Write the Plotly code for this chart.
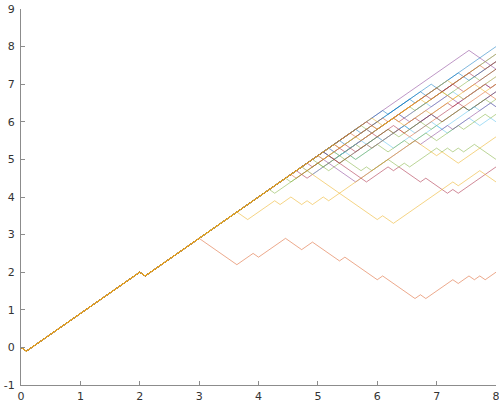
import plotly.graph_objects as go

# Shared start of every walk (turning points)
trunk_x = [0.0, 0.091, 2.0, 2.091]
trunk_y = [0.0, -0.1, 2.0, 1.9]

# Turning points of each walk after the shared start
blue1_x = [5.364, 5.455, 6.727, 6.818, 8.0]
blue1_y = [5.5, 5.4, 6.8, 6.7, 8.0]
purple1_x = [7.545, 8.0]
purple1_y = [7.9, 7.4]
olive1_x = [5.0, 5.091, 5.909, 6.0, 7.182, 7.273, 8.0]
olive1_y = [5.1, 5.0, 5.9, 5.8, 7.1, 7.0, 7.8]
red2_x = [4.636, 4.818, 6.273, 6.364, 7.545, 7.636, 8.0]
red2_y = [4.7, 4.5, 6.1, 6.0, 7.3, 7.2, 7.6]
orange2_x = [5.545, 5.636, 6.091, 6.182, 7.0, 7.091, 7.727, 7.818, 8.0]
orange2_y = [5.7, 5.6, 6.1, 6.0, 6.9, 6.8, 7.5, 7.4, 7.6]
lblue1_x = [5.091, 5.273, 6.364, 6.455, 6.818, 6.909, 7.273, 7.455, 8.0]
lblue1_y = [5.2, 5.0, 6.2, 6.1, 6.5, 6.4, 6.8, 6.6, 7.2]
green2_x = [5.727, 5.909, 6.545, 6.636, 7.091, 7.182, 7.636, 7.727, 8.0]
green2_y = [5.9, 5.7, 6.4, 6.3, 6.8, 6.7, 7.2, 7.1, 7.4]
dred2_x = [4.818, 4.909, 5.455, 5.636, 6.182, 6.273, 6.636, 6.727, 7.182, 7.273, 7.818, 7.909, 8.0]
dred2_y = [4.9, 4.8, 5.4, 5.2, 5.8, 5.7, 6.1, 6.0, 6.5, 6.4, 7.0, 6.9, 7.0]
blue2_x = [5.091, 5.364, 6.0, 6.091, 6.455, 6.545, 6.909, 7.091, 7.455, 7.545, 8.0]
blue2_y = [5.2, 4.9, 5.6, 5.5, 5.9, 5.8, 6.2, 6.0, 6.4, 6.3, 6.8]
yellow3_x = [5.273, 5.364, 5.636, 5.727, 6.273, 6.455, 6.818, 6.909, 7.364, 7.455, 7.727, 7.818, 8.0]
yellow3_y = [5.4, 5.3, 5.6, 5.5, 6.1, 5.9, 6.3, 6.2, 6.7, 6.6, 6.9, 6.8, 7.0]
lblue2_x = [4.727, 4.909, 5.455, 5.636, 6.091, 6.273, 6.545, 6.636, 7.0, 7.182, 7.545, 7.727, 7.909, 8.0]
lblue2_y = [4.8, 4.6, 5.2, 5.0, 5.5, 5.3, 5.6, 5.5, 5.9, 5.7, 6.1, 5.9, 6.1, 6.0]
orange3_x = [4.545, 4.636, 5.182, 5.364, 5.818, 5.909, 6.364, 6.545, 7.0, 7.091, 7.818, 8.0]
orange3_y = [4.6, 4.5, 5.1, 4.9, 5.4, 5.3, 5.8, 5.6, 6.1, 6.0, 6.8, 6.6]
green3_x = [4.455, 4.545, 5.0, 5.182, 5.545, 5.636, 6.0, 6.182, 6.455, 6.545, 6.818, 7.0, 7.364, 7.455, 7.818, 7.909, 8.0]
green3_y = [4.5, 4.4, 4.9, 4.7, 5.1, 5.0, 5.4, 5.2, 5.5, 5.4, 5.7, 5.5, 5.9, 5.8, 6.2, 6.1, 6.2]
dred3_x = [5.273, 5.455, 5.909, 6.0, 6.273, 6.455, 6.909, 7.0, 7.364, 7.545, 8.0]
dred3_y = [5.4, 5.2, 5.7, 5.6, 5.9, 5.7, 6.2, 6.1, 6.5, 6.3, 6.8]
yellow4_x = [5.909, 6.091, 6.727, 6.818, 7.091, 7.273, 7.636, 7.727, 8.0]
yellow4_y = [6.1, 5.9, 6.6, 6.5, 6.8, 6.6, 7.0, 6.9, 7.2]
purple3_x = [5.182, 5.273, 5.818, 5.909, 6.364, 6.545, 7.182, 7.364, 7.818, 7.909, 8.0]
purple3_y = [5.3, 5.2, 5.8, 5.7, 6.2, 6.0, 6.7, 6.5, 7.0, 6.9, 7.0]
blue4_x = [6.091, 6.182, 6.909, 7.091, 7.455, 7.545, 8.0]
blue4_y = [6.3, 6.2, 7.0, 6.8, 7.2, 7.1, 7.6]
blue5_x = [5.636, 5.727, 6.545, 6.636, 7.364, 7.455, 8.0]
blue5_y = [5.8, 5.7, 6.6, 6.5, 7.3, 7.2, 7.8]
dred4_x = [5.818, 6.0, 6.818, 6.909, 7.273, 7.455, 8.0]
dred4_y = [6.0, 5.8, 6.7, 6.6, 7.0, 6.8, 7.4]
green4_x = [4.909, 5.091, 5.636, 5.727, 6.182, 6.364, 6.727, 6.909, 7.455, 7.545, 7.818, 7.909, 8.0]
green4_y = [5.0, 4.8, 5.4, 5.3, 5.8, 5.6, 6.0, 5.8, 6.4, 6.3, 6.6, 6.5, 6.6]
lblue3_x = [5.182, 5.364, 5.727, 5.909, 6.455, 6.636, 6.909, 7.091, 7.636, 7.727, 7.909, 8.0]
lblue3_y = [5.3, 5.1, 5.5, 5.3, 5.9, 5.7, 6.0, 5.8, 6.4, 6.3, 6.5, 6.4]
purple2_x = [5.0, 5.636, 6.636, 6.727, 7.182, 7.273, 7.909, 8.0]
purple2_y = [5.1, 4.4, 5.5, 5.4, 5.9, 5.8, 6.5, 6.4]
red1_x = [5.091, 5.818, 6.182, 6.273, 6.364, 6.727, 6.818, 7.182, 7.273, 7.364, 8.0]
red1_y = [5.2, 4.4, 4.8, 4.7, 4.8, 4.4, 4.5, 4.1, 4.2, 4.1, 4.8]
green1_x = [4.182, 4.273, 5.273, 5.727, 5.818, 5.909, 6.182, 6.364, 6.455, 6.545, 7.0, 7.091, 7.182, 7.273, 7.364, 7.455, 7.636, 8.0]
green1_y = [4.2, 4.1, 5.2, 4.7, 4.8, 4.7, 5.0, 4.8, 4.9, 4.8, 5.3, 5.2, 5.3, 5.2, 5.3, 5.2, 5.4, 5.0]
yellow2_x = [4.727, 6.0, 6.091, 6.273, 7.273, 7.364, 7.727, 8.0]
yellow2_y = [4.8, 3.4, 3.5, 3.3, 4.4, 4.3, 4.7, 4.4]
yellow1_x = [3.636, 3.818, 4.273, 4.364, 4.545, 4.727, 4.818, 4.909, 5.091, 5.182, 6.636, 7.0, 7.091, 7.364, 8.0]
yellow1_y = [3.6, 3.4, 3.9, 3.8, 4.0, 3.8, 3.9, 3.8, 4.0, 3.9, 5.5, 5.1, 5.2, 4.9, 5.6]
orange1_x = [3.0, 3.636, 3.909, 4.0, 4.455, 4.727, 4.909, 5.364, 5.455, 6.0, 6.091, 6.636, 6.727, 6.818, 7.273, 7.364, 7.545, 7.636, 7.727, 7.818, 8.0]
orange1_y = [2.9, 2.2, 2.5, 2.4, 2.9, 2.6, 2.8, 2.3, 2.4, 1.8, 1.9, 1.3, 1.4, 1.3, 1.8, 1.7, 1.9, 1.8, 1.9, 1.8, 2.0]

BLUE = "rgba(0,114,189,0.5)"
ORANGE = "rgba(217,83,25,0.5)"
YELLOW = "rgba(237,177,32,0.55)"
PURPLE = "rgba(126,47,142,0.5)"
GREEN = "rgba(119,172,48,0.5)"
LBLUE = "rgba(77,190,238,0.5)"
DRED = "rgba(162,20,47,0.5)"

series = [
    (purple1_x, purple1_y, PURPLE),
    (red2_x, red2_y, DRED),
    (lblue1_x, lblue1_y, LBLUE),
    (green2_x, green2_y, GREEN),
    (dred2_x, dred2_y, DRED),
    (blue2_x, blue2_y, BLUE),
    (lblue2_x, lblue2_y, LBLUE),
    (green3_x, green3_y, GREEN),
    (dred3_x, dred3_y, DRED),
    (purple3_x, purple3_y, PURPLE),
    (blue4_x, blue4_y, BLUE),
    (blue5_x, blue5_y, BLUE),
    (dred4_x, dred4_y, DRED),
    (green4_x, green4_y, GREEN),
    (lblue3_x, lblue3_y, LBLUE),
    (purple2_x, purple2_y, PURPLE),
    (red1_x, red1_y, DRED),
    (green1_x, green1_y, GREEN),
    (blue1_x, blue1_y, BLUE),
    (orange3_x, orange3_y, ORANGE),
    (olive1_x, olive1_y, YELLOW),
    (orange2_x, orange2_y, ORANGE),
    (yellow3_x, yellow3_y, YELLOW),
    (orange1_x, orange1_y, ORANGE),
    (yellow4_x, yellow4_y, YELLOW),
    (yellow2_x, yellow2_y, YELLOW),
    (yellow1_x, yellow1_y, YELLOW),
]

fig = go.Figure()
for xs, ys, col in series:
    fig.add_trace(go.Scatter(
        x=trunk_x + xs, y=trunk_y + ys, mode="lines",
        line=dict(color=col, width=1), hoverinfo="skip", showlegend=False))

x_ticks = [0, 1, 2, 3, 4, 5, 6, 7, 8]
y_ticks = [-1, 0, 1, 2, 3, 4, 5, 6, 7, 8, 9]
y_labels = ["-1", "0", "1", "2", "3", "4", "5", "6", "7", "8", "9"]

axis_common = dict(
    showgrid=False, zeroline=False, showline=True, linecolor="#8c8c8c",
    linewidth=1, ticks="inside", ticklen=4, tickcolor="#8c8c8c", tickwidth=1,
    tickfont=dict(family="DejaVu Sans", size=11, color="#333333"),
    mirror=False, ticklabeloverflow="allow", automargin=False,
)

fig.update_layout(
    width=499, height=404,
    margin=dict(l=21, r=3, t=9, b=19),
    paper_bgcolor="white", plot_bgcolor="white",
    xaxis=dict(range=[0, 8], tickvals=x_ticks, ticklabelstandoff=1, **axis_common),
    yaxis=dict(range=[-1, 9], tickvals=y_ticks, ticktext=y_labels,
               ticklabelstandoff=3, **axis_common),
)

fig.write_html("out.html")
